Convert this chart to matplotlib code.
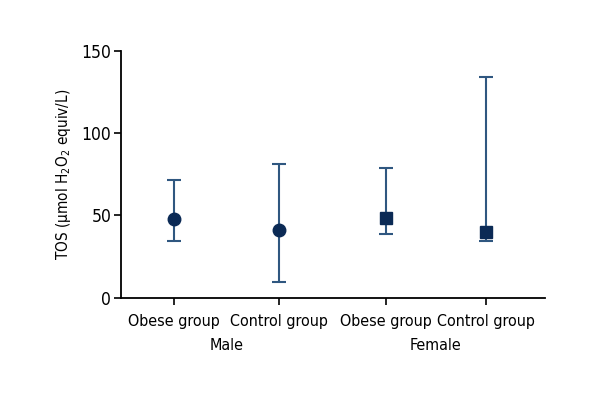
import matplotlib
matplotlib.use("Agg")
import matplotlib.pyplot as plt

categories = ["Obese group", "Control group", "Obese group", "Control group"]
groups = ["Male", "Female"]
positions = [1, 2, 3.02, 3.97]
means = [47.7, 41.0, 48.2, 40.0]
upper = [71.5, 81.3, 78.7, 134.1]
lower = [34.1, 9.6, 38.8, 34.1]
markers = ["o", "o", "s", "s"]

plt.rcParams["font.family"] = ["DejaVu Sans"]
plt.rcParams["font.stretch"] = "condensed"

fig = plt.figure(figsize=(6, 4), dpi=100)
ax = fig.add_axes([0.2017, 0.256, 0.7063, 0.617])

line_c = "#2f5780"
mark_c = "#0b2a55"
for x, m, lo, hi, mk in zip(positions, means, lower, upper, markers):
    ax.errorbar([x], [m], yerr=[[m - lo], [hi - m]], fmt="none", ecolor=line_c,
                elinewidth=1.5, capsize=5, capthick=1.5)
    ax.plot([x], [m], marker=mk, color=mark_c, markersize=9 if mk == "o" else 8.5,
            linestyle="none")

ax.set_xlim(0.5, 4.53)
ax.set_ylim(0, 150)
ax.set_yticks([0, 50, 100, 150])
ax.set_xticks(positions)
ax.set_xticklabels(categories, fontsize=11.5, fontstretch="condensed")
for lab in ax.get_yticklabels():
    lab.set_fontstretch("condensed")
ax.tick_params(axis="y", labelsize=12.5, length=5, width=1.2, pad=2)
ax.tick_params(axis="x", length=5, width=1.2, pad=7)
for s in ["top", "right"]:
    ax.spines[s].set_visible(False)
for s in ["left", "bottom"]:
    ax.spines[s].set_linewidth(1.3)
ax.set_ylabel("TOS (μmol H$_2$O$_2$ equiv/L)", fontsize=11, labelpad=6,
              fontstretch="condensed")

for i, g in enumerate(groups):
    xc = (positions[2 * i] + positions[2 * i + 1]) / 2
    ax.text(xc, -0.165, g, transform=ax.get_xaxis_transform(), ha="center",
            va="top", fontsize=11.5, fontstretch="condensed")

fig.savefig("out.png", dpi=100)
